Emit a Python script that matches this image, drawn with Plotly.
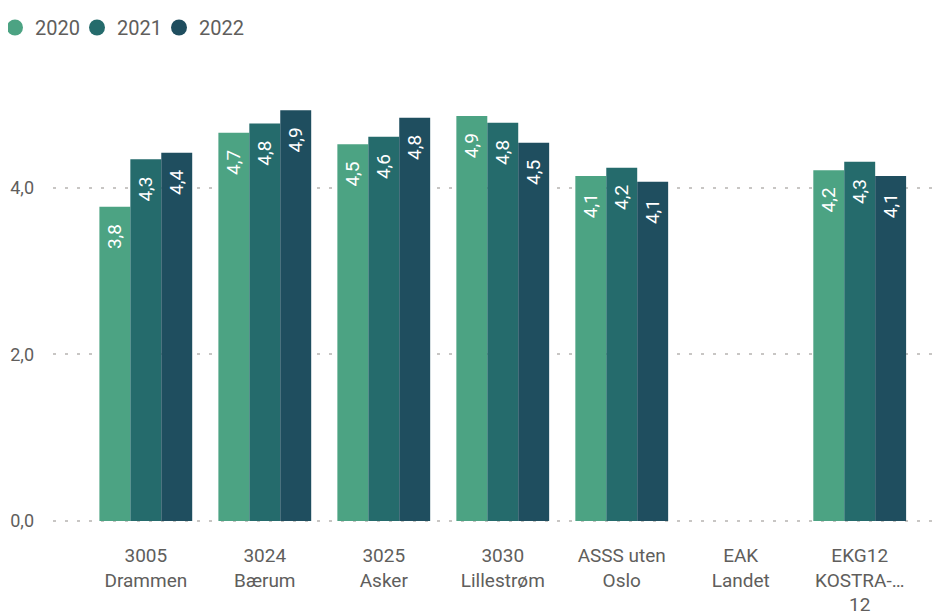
import plotly.graph_objects as go

categories = ["3005<br>Drammen", "3024<br>Bærum", "3025<br>Asker", "3030<br>Lillestrøm",
              "ASSS uten<br>Oslo", "EAK<br>Landet", "EKG12<br>KOSTRA-…<br>12"]
years = ["2020", "2021", "2022"]
values_2020 = [3.77, 4.66, 4.52, 4.86, 4.14, None, 4.21]
values_2021 = [4.34, 4.77, 4.61, 4.78, 4.24, None, 4.31]
values_2022 = [4.42, 4.93, 4.84, 4.54, 4.07, None, 4.14]
colors = ["#4CA383", "#256B6C", "#1F4E5F"]
y_ticks = [0, 2, 4]

series = [values_2020, values_2021, values_2022]
TXT = "#605E5C"
FONT = "Roboto"

# the page body adds an 8px margin, so the figure is 8px smaller than the window
W, H = 935, 607

fig = go.Figure()
for name, vals, col in zip(years, series, colors):
    fig.add_trace(go.Bar(
        x=categories, y=vals, name=name, marker=dict(color=col, line=dict(width=0)),
        texttemplate="%{y:.1f}\u00a0\u00a0\u00a0", textposition="inside",
        insidetextanchor="end", textangle=-90,
        insidetextfont=dict(color="white", size=19, family=FONT),
        showlegend=False,
    ))
for name, col in zip(years, colors):
    fig.add_trace(go.Scatter(
        x=[None], y=[None], mode="markers", name=name,
        marker=dict(symbol="circle", size=20, color=col), showlegend=True,
    ))

fig.update_layout(
    width=W, height=H,
    margin=dict(l=45, r=0, t=55, b=92, autoexpand=False),
    paper_bgcolor="white", plot_bgcolor="white",
    separators=", ",
    barmode="group", bargap=0.22, bargroupgap=0,
    font=dict(family=FONT, color=TXT),
    legend=dict(orientation="h", xref="container", yref="container",
                x=0, y=1, xanchor="left", yanchor="top",
                font=dict(size=20, color=TXT, family=FONT),
                itemsizing="trace", itemclick=False, tracegroupgap=0,
                indentation=-13, itemwidth=30,
                entrywidth=50, entrywidthmode="pixels"),
    xaxis=dict(type="category", range=[-0.78, 6.70], showgrid=False, zeroline=False,
               showline=False, ticks="", tickfont=dict(size=19, color=TXT, family=FONT),
               ticklabelstandoff=19, automargin=False),
    yaxis=dict(range=[-0.024, 5.496], tickvals=y_ticks, tickformat=".1f",
               showgrid=True, gridcolor="#C8C6C4", gridwidth=2, griddash="3px,9px",
               zeroline=False, showline=False, ticks="",
               tickfont=dict(size=18, color=TXT, family=FONT),
               ticklabelstandoff=18, automargin=False),
)

fig.write_html("out.html")
